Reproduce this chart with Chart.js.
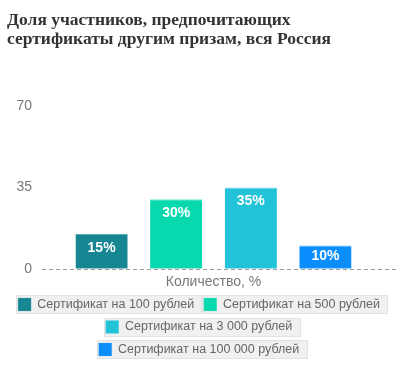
<!DOCTYPE html>
<html>
<head>
<meta charset="utf-8">
<script src="https://cdn.jsdelivr.net/npm/chart.js@4/dist/chart.umd.min.js"></script>
<style>
    html, body { margin: 0; padding: 0; background: #fff; }
    #wrap { width: 400px; height: 374px; }
</style>
</head>
<body>
<div id="wrap"><canvas id="app-chart"></canvas></div>
<script>
//======================================================================================================================
// Data
//======================================================================================================================

var titleLines = ['Доля участников, предпочитающих', 'сертификаты другим призам, вся Россия'];
var seriesNames = ['Сертификат на 100 рублей', 'Сертификат на 500 рублей', 'Сертификат на 3 000 рублей', 'Сертификат на 100 000 рублей'];
var seriesValues = [15, 30, 35, 10];
var yTicks = [0, 35, 70];
var axisTitle = 'Количество, %';

var colors = ['#168692', '#08d8ae', '#22c3d9', '#0a8dfd'];
var borders = ['#5aa9b1', '#6ae6cd', '#6fd7e6', '#5cb2fd'];

//======================================================================================================================
// Plugins
//======================================================================================================================

// grey boxes behind each legend item, legend centred on the whole canvas
var legendBoxes = {
    id: 'legendBoxes',
    afterLayout: function(chart) {
        var legend = chart.legend;
        if (!legend) return;
        legend.left = 0;
        legend.right = chart.width - 2;
    },
    beforeDraw: function(chart) {
        var legend = chart.legend;
        if (!legend || !legend.legendHitBoxes) return;
        var ctx = chart.ctx;
        ctx.save();
        legend.legendHitBoxes.forEach(function(hb) {
            var x = Math.round(hb.left - 2) + 0.5;
            var y = Math.round(hb.top - 3) + 0.5;
            var w = Math.round(hb.width + 9);
            var h = 18;
            ctx.fillStyle = '#f0f0f0';
            ctx.fillRect(x, y, w, h);
            ctx.strokeStyle = '#e2e2e2';
            ctx.lineWidth = 1;
            ctx.strokeRect(x, y, w, h);
        });
        ctx.restore();
    }
};

// dashed zero line and value labels
var barLabels = {
    id: 'barLabels',
    beforeDatasetsDraw: function(chart) {
        var ctx = chart.ctx;
        var y0 = Math.round(chart.scales.y.getPixelForValue(0)) + 0.5;
        ctx.save();
        ctx.strokeStyle = '#9a9a9a';
        ctx.lineWidth = 1;
        ctx.setLineDash([4, 3]);
        ctx.beginPath();
        ctx.moveTo(chart.chartArea.left, y0);
        ctx.lineTo(chart.width - 2, y0);
        ctx.stroke();
        ctx.restore();
    },
    afterDatasetsDraw: function(chart) {
        var ctx = chart.ctx;
        ctx.save();
        ctx.fillStyle = '#fff';
        ctx.font = 'bold 14px "Liberation Sans", Arial, sans-serif';
        ctx.textAlign = 'center';
        ctx.textBaseline = 'middle';
        chart.data.datasets.forEach(function(ds, i) {
            var bar = chart.getDatasetMeta(i).data[0];
            var y = Math.min(bar.y + 14, (bar.y + bar.base) / 2 - 1);
            ctx.fillText(ds.data[0] + '%', bar.x, y);
        });
        ctx.restore();
    }
};

//======================================================================================================================
// Chart
//======================================================================================================================

new Chart(document.getElementById('app-chart'), {
    type: 'bar',
    data: {
        labels: [''],
        datasets: seriesNames.map(function(name, i) {
            return {
                label: name,
                data: [seriesValues[i]],
                backgroundColor: colors[i],
                borderColor: borders[i],
                borderWidth: {top: 1, left: 0, right: 0, bottom: 0},
                categoryPercentage: 0.87,
                barPercentage: 0.7
            };
        })
    },
    options: {
        responsive: true,
        maintainAspectRatio: false,
        animation: false,
        layout: {
            padding: {left: 7, right: 0, top: 0, bottom: 8}
        },
        plugins: {
            title: {
                display: true,
                text: titleLines,
                align: 'start',
                color: '#333',
                font: {family: '"Liberation Serif", "Times New Roman", serif', size: 17.5, weight: 'bold', lineHeight: 1.1},
                padding: {top: 11, bottom: 57}
            },
            legend: {
                position: 'bottom',
                labels: {
                    color: '#666',
                    font: {family: '"Liberation Sans", Arial, sans-serif', size: 12.5},
                    boxWidth: 13,
                    boxHeight: 13,
                    padding: 9.5
                }
            },
            tooltip: {enabled: false}
        },
        scales: {
            x: {
                grid: {display: false, drawTicks: false},
                border: {display: false},
                ticks: {display: false},
                title: {
                    display: true,
                    text: axisTitle,
                    color: '#777',
                    font: {family: '"Liberation Sans", Arial, sans-serif', size: 14},
                    padding: {top: 5.5, bottom: -2.5}
                }
            },
            y: {
                min: yTicks[0],
                max: yTicks[yTicks.length - 1],
                afterBuildTicks: function(axis) {
                    axis.ticks = yTicks.map(function(v) { return {value: v}; });
                },
                afterFit: function(axis) {
                    axis.width = 35;
                },
                grid: {display: false, drawTicks: false},
                border: {display: false},
                ticks: {
                    color: '#777',
                    font: {family: '"Liberation Sans", Arial, sans-serif', size: 14},
                    padding: 10
                }
            },
            // empty strip on the right so the bars sit left of centre
            yRight: {
                position: 'right',
                min: 0,
                max: 70,
                grid: {display: false, drawTicks: false},
                border: {display: false},
                ticks: {display: false},
                afterFit: function(axis) {
                    axis.width = 15;
                }
            }
        }
    },
    plugins: [legendBoxes, barLabels]
});
</script>
</body>
</html>
